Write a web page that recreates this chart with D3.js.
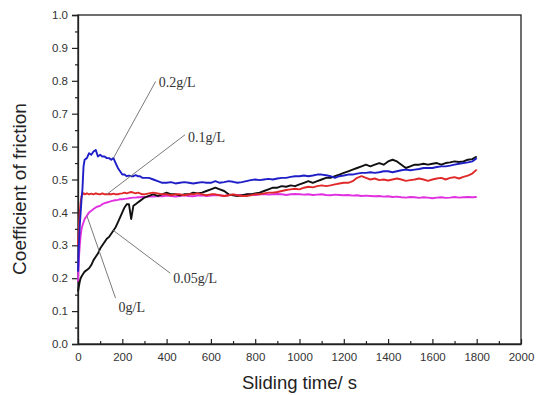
<!DOCTYPE html>
<html><head><meta charset="utf-8">
<script src="https://cdn.jsdelivr.net/npm/d3@7"></script>
<style>
body{margin:0;background:#fff;}
svg{display:block;}
</style></head>
<body><svg id="chart" width="537" height="395"></svg>
<script>
// ---- data ----
const timeEarly = [0,4,8,12,16,20,25,30,40,50,60,70,80,90,100,110,120,130,140,150,160,170,180,190,200,210,220,230,240,250,260,270,280,290,300];
const timeLate = d3.range(320, 1801, 20);
const time = timeEarly.concat(timeLate);

const seriesBlack = [
0.16,0.175,0.19,0.2,0.205,0.21,0.215,0.22,0.225,0.23,0.24,0.255,0.265,0.275,0.29,0.30,0.31,0.32,0.325,0.335,0.345,0.355,0.37,0.385,0.40,0.415,0.425,0.425,0.38,0.42,0.425,0.43,0.435,0.44,0.445,
0.45,0.455,0.45,0.455,0.46,0.455,0.455,0.452,0.455,0.455,0.46,0.458,0.46,0.465,0.47,0.475,0.47,0.465,0.455,0.452,0.45,0.452,0.455,0.455,0.458,0.46,0.465,0.47,0.475,0.475,0.48,0.478,0.482,0.48,0.485,
0.49,0.495,0.49,0.495,0.50,0.505,0.505,0.51,0.515,0.52,0.525,0.53,0.535,0.54,0.545,0.54,0.545,0.55,0.545,0.555,0.56,0.555,0.545,0.535,0.54,0.545,0.545,0.548,0.545,0.548,0.55,0.545,0.55,0.552,0.555,0.553,0.555,0.56,0.562,0.57];

const seriesMagenta = [
0.19,0.26,0.30,0.33,0.35,0.36,0.37,0.38,0.39,0.40,0.405,0.41,0.415,0.418,0.42,0.425,0.428,0.43,0.432,0.434,0.436,0.437,0.438,0.44,0.44,0.441,0.442,0.443,0.444,0.445,0.445,0.446,0.446,0.447,0.447,
0.448,0.448,0.45,0.449,0.451,0.45,0.448,0.45,0.452,0.45,0.449,0.451,0.452,0.45,0.451,0.453,0.452,0.45,0.452,0.454,0.453,0.452,0.454,0.455,0.453,0.455,0.456,0.454,0.455,0.456,0.455,0.453,0.455,0.456,0.455,
0.454,0.455,0.453,0.454,0.455,0.453,0.452,0.454,0.453,0.452,0.453,0.451,0.452,0.45,0.451,0.45,0.449,0.45,0.448,0.449,0.447,0.448,0.446,0.445,0.447,0.446,0.444,0.446,0.445,0.443,0.445,0.446,0.444,0.445,0.447,0.445,0.446,0.447,0.446,0.447];

const seriesRed = [
0.30,0.35,0.40,0.43,0.45,0.455,0.458,0.455,0.458,0.455,0.457,0.455,0.458,0.456,0.455,0.458,0.455,0.455,0.456,0.455,0.457,0.455,0.455,0.457,0.458,0.46,0.458,0.46,0.462,0.46,0.458,0.46,0.458,0.455,0.455,
0.458,0.46,0.458,0.455,0.455,0.452,0.455,0.455,0.452,0.455,0.455,0.458,0.455,0.452,0.455,0.455,0.452,0.45,0.452,0.455,0.452,0.45,0.45,0.452,0.455,0.455,0.458,0.46,0.46,0.462,0.465,0.468,0.47,0.472,0.47,
0.475,0.478,0.476,0.48,0.482,0.48,0.482,0.485,0.488,0.49,0.49,0.495,0.505,0.51,0.505,0.50,0.503,0.498,0.50,0.497,0.50,0.503,0.50,0.496,0.498,0.50,0.503,0.50,0.496,0.50,0.503,0.505,0.50,0.505,0.507,0.503,0.508,0.512,0.518,0.53];

const seriesBlue = [
0.22,0.30,0.36,0.40,0.44,0.47,0.54,0.56,0.565,0.58,0.575,0.585,0.59,0.57,0.575,0.57,0.57,0.565,0.565,0.56,0.565,0.55,0.535,0.525,0.515,0.515,0.51,0.512,0.51,0.51,0.513,0.51,0.51,0.505,0.505,
0.505,0.50,0.495,0.49,0.49,0.492,0.488,0.49,0.492,0.49,0.488,0.49,0.492,0.49,0.49,0.495,0.49,0.492,0.495,0.493,0.49,0.492,0.495,0.498,0.50,0.498,0.50,0.502,0.50,0.503,0.505,0.505,0.508,0.51,0.51,
0.512,0.51,0.512,0.515,0.515,0.513,0.51,0.505,0.51,0.512,0.515,0.515,0.518,0.52,0.52,0.522,0.52,0.522,0.525,0.525,0.522,0.525,0.528,0.53,0.528,0.53,0.532,0.535,0.535,0.535,0.538,0.54,0.54,0.542,0.545,0.548,0.55,0.552,0.555,0.565];

const seriesColors = ["#e030e0","#111111","#e02a2a","#1f1fc8"];
const seriesValues = [seriesMagenta, seriesBlack, seriesRed, seriesBlue];

const xTicks = d3.range(0, 2001, 200);
const yTicks = d3.range(0, 11).map(i => i/10);

// annotations: text, label position (data units, vertical centre), series index it points to, time pointed at
const labelText = ["0.2g/L","0.1g/L","0.05g/L","0g/L"];
const labelAt = [[364,0.795],[497,0.63],[430,0.20],[183,0.112]];
const labelSeries = [3,2,1,0];
const labelPointT = [160,130,160,40];
const labelLineDy = [-1,-2,-5,-9];

// ---- layout ----
const svg = d3.select("#chart");
const L = 78, R = 521, T = 15, B = 344;
const x = d3.scaleLinear().domain([0,2000]).range([L,R]);
const y = d3.scaleLinear().domain([0,1]).range([B,T]);

svg.append("rect").attr("x",L).attr("y",T).attr("width",R-L).attr("height",B-T)
  .attr("fill","none").attr("stroke","#222").attr("stroke-width",1.3);

svg.append("g").attr("transform",`translate(${L},0)`)
  .call(d3.axisLeft(y).tickValues(yTicks).tickFormat(d3.format(".1f")).tickSize(6).tickPadding(4));
svg.append("g").attr("transform",`translate(${L},0)`)
  .call(d3.axisLeft(y).tickValues(d3.range(0.05,1,0.1)).tickFormat("").tickSize(3))
  .select(".domain").remove();
svg.append("g").attr("transform",`translate(0,${B})`)
  .call(d3.axisBottom(x).tickValues(xTicks).tickFormat(d3.format("d")).tickSizeInner(-5).tickSizeOuter(0).tickPadding(9));
svg.append("g").attr("transform",`translate(0,${B})`)
  .call(d3.axisBottom(x).tickValues(d3.range(100,2000,200)).tickFormat("").tickSizeInner(-3).tickSizeOuter(0))
  .select(".domain").remove();
svg.selectAll(".domain").attr("stroke","#222").attr("stroke-width",1.3);
svg.selectAll(".tick line").attr("stroke","#222").attr("stroke-width",1.2);
svg.selectAll(".tick text").attr("font-family","Liberation Sans, Arial, sans-serif")
  .attr("font-size","11.5px").attr("fill","#333");

svg.append("text").attr("x",(L+R)/2).attr("y",389).attr("text-anchor","middle")
  .attr("font-family","Liberation Sans, Arial, sans-serif").attr("font-size","18.5px").attr("fill","#222")
  .text("Sliding time/ s");
svg.append("text").attr("transform","translate(26,189) rotate(-90)").attr("text-anchor","middle")
  .attr("font-family","Liberation Sans, Arial, sans-serif").attr("font-size","19px").attr("fill","#222")
  .text("Coefficient of friction");

const line = d3.line().x((d,i)=>x(time[i])).y(d=>y(d));
seriesValues.forEach((vals,k)=>{
  svg.append("path").datum(vals).attr("d",line).attr("fill","none")
    .attr("stroke",seriesColors[k]).attr("stroke-width",1.9).attr("stroke-linejoin","round");
});

labelText.forEach((txt,i)=>{
  const s = labelSeries[i];
  const t = labelPointT[i];
  const idx = time.indexOf(t);
  const px = x(t), py = y(seriesValues[s][idx]);
  const lx = x(labelAt[i][0]), ly = y(labelAt[i][1]);
  svg.append("line").attr("x1",lx-3).attr("y1",ly+labelLineDy[i]).attr("x2",px).attr("y2",py)
    .attr("stroke","#7a7a7a").attr("stroke-width",1);
  svg.append("text").attr("x",lx).attr("y",ly+5)
    .attr("font-family","Liberation Serif, Times New Roman, serif").attr("font-size","14px").attr("fill","#333")
    .text(txt);
});
</script></body></html>
